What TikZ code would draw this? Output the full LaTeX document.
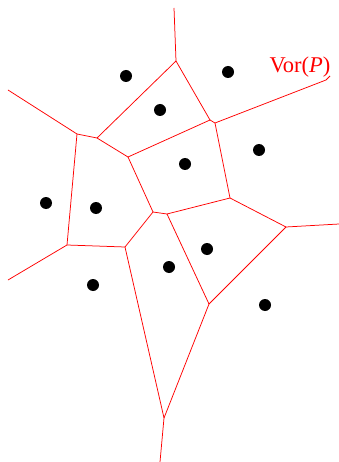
\documentclass[tikz,border=0pt]{standalone}
\usepackage{fontspec}
\setmainfont{Liberation Serif}
\begin{document}
\begin{tikzpicture}[x=1pt,y=-1pt,
  edge/.style={draw=red,line width=0.75pt},
  site/.style={circle,fill=black,inner sep=0pt,minimum size=12pt}]
\useasboundingbox (0,0) rectangle (339,462);
% Voronoi vertices
\coordinate (A) at (176,61);
\coordinate (B1) at (210,120);
\coordinate (B2) at (215,123);
\coordinate (C) at (128,157);
\coordinate (D) at (77,134);
\coordinate (E) at (97,138);
\coordinate (F) at (67,245);
\coordinate (G) at (125,247);
\coordinate (H) at (153,212);
\coordinate (I) at (167,214);
\coordinate (J) at (230,198);
\coordinate (K) at (286,227);
\coordinate (L) at (209,304);
\coordinate (M) at (164,418);
% ray ends
\coordinate (rA) at (174,8);
\coordinate (rB) at (326,80);
\coordinate (rBh) at (330,76);
\coordinate (rD) at (8,90);
\coordinate (rF) at (8,280);
\coordinate (rK) at (339,224);
\coordinate (rM) at (160,462);
% edges
\draw[edge] (A) -- (rA);
\draw[edge] (A) -- (B1);
\draw[edge] (A) -- (E);
\draw[edge] (B1) -- (B2);
\draw[edge] (B1) -- (C);
\draw[edge] (B2) -- (rB) -- (rBh);
\draw[edge] (B2) -- (J);
\draw[edge] (D) -- (rD);
\draw[edge] (D) -- (E);
\draw[edge] (E) -- (C);
\draw[edge] (D) -- (F);
\draw[edge] (F) -- (rF);
\draw[edge] (F) -- (G);
\draw[edge] (C) -- (H);
\draw[edge] (H) -- (I);
\draw[edge] (H) -- (G);
\draw[edge] (I) -- (J);
\draw[edge] (J) -- (K);
\draw[edge] (K) -- (rK);
\draw[edge] (K) -- (L);
\draw[edge] (I) -- (L);
\draw[edge] (G) -- (M);
\draw[edge] (L) -- (M);
\draw[edge] (M) -- (rM);
% sites
\node[site] (p1) at (126,76) {};
\node[site] (p2) at (228,72) {};
\node[site] (p3) at (160,110) {};
\node[site] (p4) at (259,150) {};
\node[site] (p5) at (185,164) {};
\node[site] (p6) at (46,203) {};
\node[site] (p7) at (96,208) {};
\node[site] (p8) at (207,249) {};
\node[site] (p9) at (169,267) {};
\node[site] (p10) at (93,285) {};
\node[site] (p11) at (265,305) {};
% label
\node[text=red,font=\fontsize{22.5}{26}\selectfont,inner sep=0pt,anchor=base] (lab) at (300,73) {Vor(\textit{P})};
\end{tikzpicture}
\end{document}
